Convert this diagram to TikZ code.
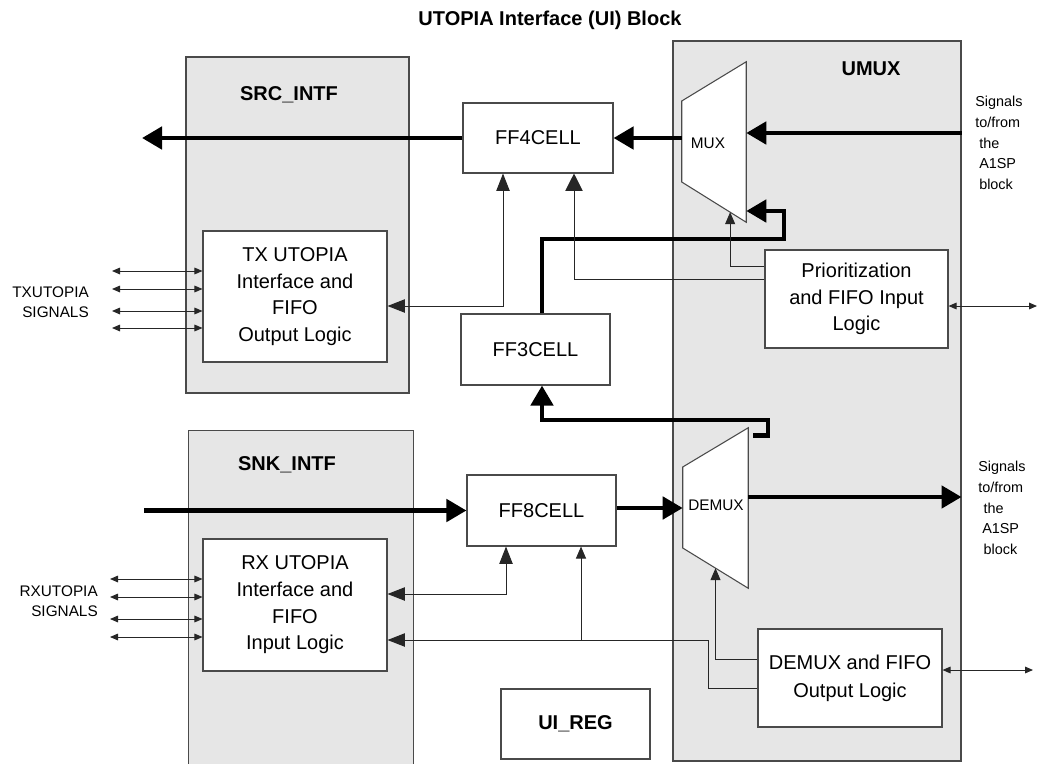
\documentclass[tikz,border=0pt]{standalone}
\usepackage{fontspec}
\setmainfont{Liberation Sans}
\usetikzlibrary{arrows.meta,fit,calc}
\definecolor{boxgray}{HTML}{E6E6E6}
\definecolor{edgegray}{HTML}{4A4A4A}
\definecolor{wire}{HTML}{262626}
\tikzset{
  Big/.tip={Triangle[length=15pt,width=16.5pt]},
  Med/.tip={Triangle[length=13pt,width=10pt]},
  Wide/.tip={Triangle[length=13pt,width=13pt]},
  Sml/.tip={Triangle[length=9pt,width=7.5pt]},
  Tny/.tip={Triangle[length=6pt,width=5pt]},
}
\begin{document}
\begin{tikzpicture}[x=0.75pt,y=-0.75pt,
  grp/.style={fill=boxgray, draw=edgegray, line width=0.8pt, inner sep=0pt},
  blk/.style={fill=white, draw=edgegray, line width=0.8pt, inner sep=0pt},
  txt/.style={font=\fontsize{15}{20}\selectfont, align=center, inner sep=0pt},
  lbl/.style={font=\bfseries\fontsize{15}{18}\selectfont, inner sep=0pt},
  smalltxt/.style={font=\fontsize{11.5}{15}\selectfont, align=center, inner sep=0pt},
  sidetxt/.style={font=\fontsize{10.8}{15.5}\selectfont, align=left, inner sep=0pt, anchor=west},
  bus/.style={line width=3.5pt, draw=black, -Big},
  sig/.style={line width=0.75pt, draw=wire},
]
\useasboundingbox (0,0) rectangle (1039,764);

% title
\node[lbl] (title) at (550,20) {UTOPIA Interface (UI) Block};

% group regions
\node[grp, fit={(186,57)(409,393)}] (src) {};
\node[grp, draw=none, fit={(189,431)(413,764)}] (snk) {};
\draw[edgegray, line width=0.8pt] (snk.south west) |- (snk.north east) -- (snk.south east);
\node[grp, fit={(673,41)(961,761)}] (umux) {};

\node[lbl] (srclbl) at (289,95) {SRC\_INTF};
\node[lbl] (snklbl) at (287,465) {SNK\_INTF};
\node[lbl] (umuxlbl) at (871,69) {UMUX};

% white blocks
\node[blk, fit={(203,231)(387,362)}] (tx) {};
\node[blk, fit={(203,539)(387,671)}] (rx) {};
\node[blk, fit={(463,103)(613,173)}] (ff4) {};
\node[blk, fit={(461,314)(610,385)}] (ff3) {};
\node[blk, fit={(467,475)(616,546)}] (ff8) {};
\node[blk, fit={(501,689)(650,759)}] (uireg) {};
\node[blk, fit={(765,250)(948,348)}] (prio) {};
\node[blk, fit={(758,629)(942,727)}] (dfifo) {};

\node[txt] (txt-tx) at (tx.center) {TX UTOPIA\\Interface and\\FIFO\\Output Logic};
\node[txt] (txt-rx) at (rx.center) {RX UTOPIA\\Interface and\\FIFO\\Input Logic};
\node[txt] (txt-ff4) at (ff4.center) {FF4CELL};
\node[txt] (txt-ff3) at (ff3.center) {FF3CELL};
\node[txt] (txt-ff8) at (ff8.center) {FF8CELL};
\node[lbl] (txt-uireg) at (uireg.center) {UI\_REG};
\node[txt, font=\fontsize{15}{20}\selectfont] (txt-prio) at (prio.center) {Prioritization\\and FIFO Input\\Logic};
\node[txt, font=\fontsize{15}{21}\selectfont] (txt-dfifo) at (dfifo.center) {DEMUX and FIFO\\Output Logic};

% mux / demux trapezoids
\node[inner sep=0pt, fit={(682,62)(746,222)}] (mux) {};
\draw[blk] (mux.west |- 0,101) -- (mux.north east) -- (mux.south east) -- (mux.west |- 0,182) -- cycle;
\node[smalltxt] (muxlbl) at (708,143) {MUX};
\node[inner sep=0pt, fit={(683,428)(748,588)}] (demux) {};
\draw[blk] (demux.west |- 0,467) -- (demux.north east) -- (demux.south east) -- (demux.west |- 0,548) -- cycle;
\node[smalltxt] (demuxlbl) at (716,505) {DEMUX};

% side texts
\node[smalltxt, align=right, anchor=east] (txsig) at (89,302) {TXUTOPIA\\SIGNALS};
\node[smalltxt, align=right, anchor=east] (rxsig) at (98,601) {RXUTOPIA\\SIGNALS};
\node[sidetxt] (a1top) at (975,143) {Signals\\to/from\\\hspace{3pt}the\\\hspace{3pt}A1SP\\\hspace{3pt}block};
\node[sidetxt] (a1bot) at (978,508) {Signals\\to/from\\\hspace{4pt}the\\\hspace{3pt}A1SP\\\hspace{4pt}block};

% free ends
\coordinate (srcout) at (142,138);
\coordinate (snkin) at (144,510.5);
\coordinate (prioext) at (1037,306);
\coordinate (dfifoext) at (1033,670);
\coordinate (j) at (581,640);

% thick buses
\draw[bus] (ff4.west) -- (srcout);
\draw[bus] (mux.west |- ff4.east) -- (ff4.east);
\draw[bus] (umux.east |- 0,133) -- (mux.east |- 0,133);
\draw[bus] (ff3.north -| 542,0) |- (784,239) |- (mux.east |- 0,211);
\draw[bus] ($(demux.north east)+(5,8)$) -| (768,420) -| (ff3.south -| 542,0);
\draw[bus] (snkin) -- (ff8.west);
\draw[bus] (ff8.east |- demux.west) -- (demux.west);
\draw[bus] (demux.east |- 0,497) -- (umux.east |- 0,497);

% thin signals
\draw[sig, Med-Med] (tx.east |- 0,306) -| (ff4.south -| 503,0);
\draw[sig, -Wide] (prio.west |- 0,279) -| (ff4.south -| 574,0);
\draw[sig, -Sml] (prio.west |- 0,266) -| ($(mux.west |- 0,182)!0.75!(mux.south east)$);
\draw[sig, Med-Med] (rx.east |- 0,594) -| (ff8.south -| 506,0);
\draw[sig, -Med] (dfifo.west |- 0,688) -| (708,640) -- (rx.east |- 0,640);
\draw[sig, -Sml] (j) -- (ff8.south -| j);
\draw[sig, -Sml] (dfifo.west |- 0,659) -| ($(demux.west |- 0,548)!0.5!(demux.south east)$);
\draw[sig, Tny-Tny] (prio.east |- prioext) -- (prioext);
\draw[sig, Tny-Tny] (dfifo.east |- dfifoext) -- (dfifoext);
\foreach \y in {271,289,311,328} {\draw[sig, Tny-Tny] (112,\y) -- (tx.west |- 0,\y);}
\foreach \y in {579,597,619,637} {\draw[sig, Tny-Tny] (110,\y) -- (rx.west |- 0,\y);}
\end{tikzpicture}
\end{document}
